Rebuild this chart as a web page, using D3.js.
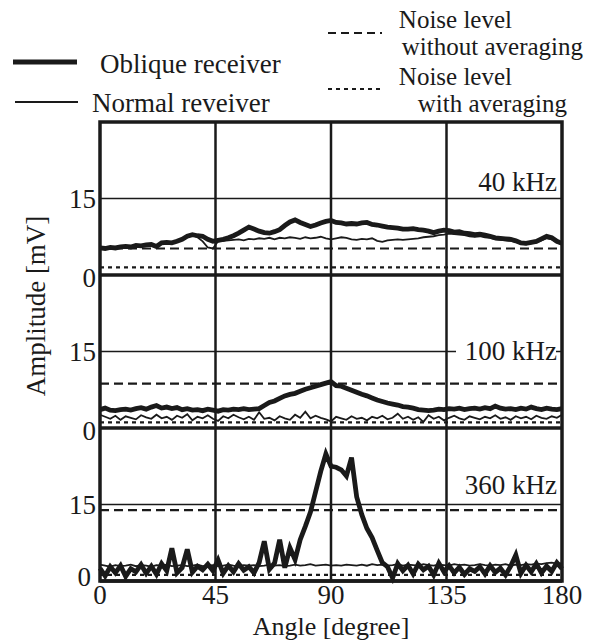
<!DOCTYPE html>
<html><head><meta charset="utf-8">
<script src="https://cdn.jsdelivr.net/npm/d3@7"></script>
<style>body{margin:0;background:#fff}svg{display:block}
svg text{font-family:"Times New Roman",Times,"Liberation Serif","DejaVu Serif","Noto Serif",serif;}</style>
</head><body><svg id="c" width="592" height="641"></svg>
<script>
const angles = [0,2,4,6,8,10,12,14,16,18,20,22,24,26,28,30,32,34,36,38,40,42,44,46,48,50,52,54,56,58,60,62,64,66,68,70,72,74,76,78,80,82,84,86,88,90,92,94,96,98,100,102,104,106,108,110,112,114,116,118,120,122,124,126,128,130,132,134,136,138,140,142,144,146,148,150,152,154,156,158,160,162,164,166,168,170,172,174,176,178,180];
const panels = ["40 kHz","100 kHz","360 kHz"];
const xTicks = [0,45,90,135,180];
const yTicks = [0,15];
const obl40 = [5.3,5.2,5.4,5.3,5.5,5.6,5.5,5.8,5.7,5.9,6.0,5.6,6.3,6.4,6.3,6.6,7.0,7.6,7.9,7.7,7.6,7.0,6.6,6.8,7.0,7.3,7.7,8.2,8.8,9.4,9.0,8.6,8.3,8.2,8.5,8.9,9.7,10.4,10.8,10.3,9.9,9.5,9.8,10.2,10.5,10.7,10.3,10.2,10.0,10.1,10.0,10.2,10.3,9.9,9.8,9.6,9.4,9.3,9.2,9.0,9.0,9.1,8.9,8.8,8.6,8.3,8.6,8.8,8.7,8.4,8.5,8.2,8.1,7.9,8.0,7.8,7.6,7.3,7.2,7.1,7.0,6.7,6.3,6.2,6.4,6.6,7.1,7.6,7.3,6.6,6.2];
const nor40 = [5.2,5.1,5.3,5.3,5.4,5.5,5.5,5.7,5.6,5.8,5.9,5.7,6.2,6.3,6.2,6.5,6.9,7.5,7.8,7.4,6.6,5.4,5.2,6.6,6.7,6.8,6.9,7.0,6.8,7.1,7.0,7.2,7.1,7.3,7.0,7.3,7.2,7.4,7.3,7.1,7.4,7.2,7.3,7.5,7.2,7.0,7.2,7.4,7.3,7.0,6.9,7.1,7.0,7.2,6.7,6.5,6.8,6.9,7.0,6.9,7.0,7.1,7.2,7.4,7.5,7.6,7.8,7.9,8.1,8.0,7.9,7.8,7.6,7.5,7.6,7.4,7.3,7.0,6.9,6.8,6.7,6.5,6.1,6.0,6.2,6.4,6.8,7.2,7.0,6.4,6.0];
const obl100 = [3.6,3.9,3.5,3.4,3.6,3.7,3.5,3.8,4.0,3.7,4.1,4.4,3.9,4.1,3.8,4.0,3.6,3.8,3.5,3.6,3.4,3.7,3.5,3.3,3.6,3.5,3.7,3.6,3.8,3.6,3.7,3.8,4.4,5.0,5.3,5.8,6.3,6.6,6.8,7.2,7.6,7.9,8.2,8.5,8.8,9.1,8.3,8.2,7.8,7.4,7.0,6.6,6.3,5.9,5.5,5.2,4.9,4.7,4.5,4.2,4.1,3.9,3.6,3.5,3.4,3.5,3.7,3.6,3.8,3.7,3.9,3.6,3.8,3.9,3.7,4.0,3.8,4.3,3.9,3.7,3.8,3.6,3.9,3.7,4.1,3.8,3.6,3.9,3.7,3.6,3.8];
const nor100 = [2.6,2.2,1.8,2.4,1.6,2.3,2.0,1.7,2.5,2.1,1.8,2.6,1.9,2.2,1.6,2.4,2.0,2.7,1.5,2.2,1.9,2.5,1.8,1.4,2.3,1.9,2.6,2.1,1.7,2.2,1.6,3.1,1.8,2.0,1.5,2.3,1.9,1.6,2.6,2.0,3.2,1.9,2.4,2.0,1.7,1.3,2.2,1.9,1.6,2.3,1.8,2.0,1.5,2.2,1.9,2.4,1.7,2.0,2.8,1.8,2.2,1.6,2.1,1.2,2.5,1.8,2.2,1.5,2.0,2.4,1.9,1.6,2.3,2.0,1.7,2.2,1.9,2.5,1.8,2.1,1.6,2.3,1.9,2.2,1.7,2.4,2.0,1.8,2.3,2.0,2.6];
const obl360 = [2.5,1.0,2.8,1.6,3.0,0.9,2.4,1.8,3.2,1.5,2.9,1.3,3.4,2.0,6.4,1.6,2.6,6.2,1.7,2.9,2.2,3.3,2.0,4.1,1.5,3.0,1.8,3.4,2.1,2.8,1.6,3.6,7.8,2.3,3.5,8.1,2.6,6.5,4.2,8.1,10.7,13.5,17.5,21.5,24.9,22.5,22.3,21.8,20.6,24.2,16.5,13.0,10.3,8.5,6.0,3.6,2.8,0.6,3.4,2.0,3.1,1.4,3.3,2.2,2.9,1.2,3.5,1.8,3.0,1.6,2.7,1.3,2.4,1.9,2.8,1.4,3.0,1.7,2.5,1.2,2.9,5.1,1.5,3.1,1.8,3.4,1.6,2.9,1.9,3.6,2.4];
const nor360 = [3.2,3.0,2.8,3.1,2.9,3.0,3.2,2.9,3.1,3.0,2.8,3.1,3.0,3.2,2.9,3.0,3.1,2.9,3.0,3.2,2.9,3.0,3.1,2.9,3.0,3.2,3.0,2.9,3.1,3.0,3.1,2.9,3.0,3.2,3.0,3.1,2.9,3.0,3.2,3.0,3.1,3.3,3.0,3.1,3.2,3.0,3.1,3.0,3.2,3.1,3.0,3.2,3.0,3.3,3.1,3.2,3.0,3.1,3.3,3.0,3.2,3.1,3.0,3.3,3.1,3.0,3.2,3.1,3.0,3.3,3.1,3.2,3.0,3.1,3.3,3.1,3.0,3.2,3.1,3.3,3.0,3.2,3.1,3.3,3.2,3.4,3.3,3.5,3.6,3.4,3.5];
const noiseNoAvg = [5.2,8.7,13.9];
const noiseAvg = [1.5,1.1,1.2];
const oblique = [obl40,obl100,obl360];
const normal = [nor40,nor100,nor360];

const svg = d3.select("#c");
const L=100,R=562,T=122,PH=153;
const x = d3.scaleLinear().domain([0,180]).range([L,R]);
const FS=27;
const INK="#1a1a1a";
function txt(sel,fs){ return sel.append("text").attr("font-size",fs||FS).attr("fill",INK); }

for(let p=0;p<3;p++){
  const top=T+p*PH, bot=top+PH;
  const y = d3.scaleLinear().domain([0,30]).range([bot,top]);
  const g = svg.append("g");
  g.append("line").attr("x1",L).attr("x2",R).attr("y1",y(15)).attr("y2",y(15)).attr("stroke",INK).attr("stroke-width",1.3);
  if(p===1){
    g.append("rect").attr("x",456).attr("y",y(15)-12).attr("width",100).attr("height",24).attr("fill","#fff");
  }
  const ly = p===0?191:(p===1?y(15)+8:494);
  txt(g).attr("x",557).attr("y",ly).attr("text-anchor","end").text(panels[p]);
  g.append("line").attr("x1",L).attr("x2",R).attr("y1",y(noiseNoAvg[p])).attr("y2",y(noiseNoAvg[p])).attr("stroke",INK).attr("stroke-width",2.2).attr("stroke-dasharray","9,5");
  g.append("line").attr("x1",L).attr("x2",R).attr("y1",y(noiseAvg[p])).attr("y2",y(noiseAvg[p])).attr("stroke",INK).attr("stroke-width",2.2).attr("stroke-dasharray","4,4");
  const line = d3.line().x((d,i)=>x(angles[i])).y(d=>y(d));
  g.append("path").datum(normal[p]).attr("d",line).attr("fill","none").attr("stroke",INK).attr("stroke-width",1.8);
  g.append("path").datum(oblique[p]).attr("d",line).attr("fill","none").attr("stroke",INK).attr("stroke-width",4.8);
  yTicks.forEach(t=>{
    const last = (p===2 && t===0);
    txt(g).attr("x",last?91:96).attr("y",y(t)+(t===0?(last?5:12):9)).attr("text-anchor","end").text(t);
  });
  g.append("line").attr("x1",L).attr("x2",R).attr("y1",bot).attr("y2",bot).attr("stroke",INK).attr("stroke-width",3.5);
}
[45,90,135].forEach(a=>{
  svg.append("line").attr("x1",x(a)).attr("x2",x(a)).attr("y1",T).attr("y2",T+3*PH).attr("stroke",INK).attr("stroke-width",2.5);
});
svg.append("rect").attr("x",L).attr("y",T).attr("width",R-L).attr("height",3*PH).attr("fill","none").attr("stroke",INK).attr("stroke-width",3.5);
xTicks.forEach(t=>{
  txt(svg).attr("x",x(t)).attr("y",604).attr("text-anchor","middle").text(t);
});
txt(svg,26).attr("x",331).attr("y",635).attr("text-anchor","middle").text("Angle [degree]");
txt(svg).attr("transform","translate(45,306) rotate(-90)").attr("text-anchor","middle").text("Amplitude [mV]");
// legend
svg.append("line").attr("x1",13).attr("x2",77).attr("y1",62).attr("y2",62).attr("stroke",INK).attr("stroke-width",5);
txt(svg).attr("x",100).attr("y",73).text("Oblique receiver");
svg.append("line").attr("x1",15).attr("x2",78).attr("y1",102).attr("y2",102).attr("stroke",INK).attr("stroke-width",2);
txt(svg).attr("x",92).attr("y",112).text("Normal reveiver");
svg.append("line").attr("x1",328).attr("x2",382).attr("y1",33).attr("y2",33).attr("stroke",INK).attr("stroke-width",2.2).attr("stroke-dasharray","8,5");
txt(svg,25).attr("x",512).attr("y",28).attr("text-anchor","end").text("Noise level");
txt(svg,25).attr("x",583).attr("y",55).attr("text-anchor","end").text("without averaging");
svg.append("line").attr("x1",328).attr("x2",382).attr("y1",89).attr("y2",89).attr("stroke",INK).attr("stroke-width",2.2).attr("stroke-dasharray","4,4");
txt(svg,25).attr("x",512).attr("y",85).attr("text-anchor","end").text("Noise level");
txt(svg,25).attr("x",567).attr("y",112).attr("text-anchor","end").text("with averaging");
</script></body></html>
